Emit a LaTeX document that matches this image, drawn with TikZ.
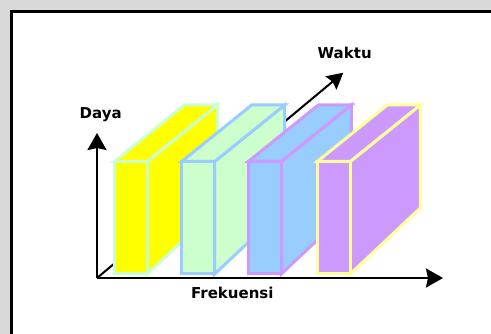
\documentclass[tikz,border=0pt]{standalone}
\usepackage{fontspec}
\setmainfont{DejaVu Sans}
\usetikzlibrary{arrows.meta}
\definecolor{bggray}{HTML}{D9D9D9}
\definecolor{cyellow}{HTML}{FFFF00}
\definecolor{cgreen}{HTML}{CCFFCC}
\definecolor{cblue}{HTML}{99CCFF}
\definecolor{cpurple}{HTML}{CC99FF}
\definecolor{clyellow}{HTML}{FFFF99}
\tikzset{
  axisline/.style={line width=2.4pt, -{Stealth[length=17pt,width=19pt,inset=2pt]}},
  timeline/.style={line width=2pt, -{Stealth[length=16pt,width=17pt,inset=2pt]}},
  lbl/.style={font=\bfseries\fontsize{15}{18}\selectfont, anchor=base, inner sep=0pt},
  slabface/.style={line width=3pt, line join=miter}
}
\newcommand{\drawslab}[4]{%
  % #1 name, #2 front-left x, #3 fill, #4 stroke
  \coordinate (#1-fl) at (#2,274);
  \coordinate (#1-ft) at (#2,161.5);
  \coordinate (#1-frt) at (#2+33,161.5);
  \coordinate (#1-frb) at (#2+33,274);
  \coordinate (#1-bl) at (#2+70,105);
  \coordinate (#1-br) at (#2+103,105);
  \coordinate (#1-bb) at (#2+103,208);
  \path[slabface, fill=#3, draw=#4] (#1-frt) -- (#1-br) -- (#1-bb) -- (#1-frb) -- cycle;
  \path[slabface, fill=#3, draw=#4] (#1-ft) -- (#1-bl) -- (#1-br) -- (#1-frt) -- cycle;
  \path[slabface, fill=#3, draw=#4] (#1-ft) -- (#1-frt) -- (#1-frb) -- (#1-fl) -- cycle;
}
\begin{document}
\begin{tikzpicture}[x=1pt,y=-1pt]
\useasboundingbox (0,0) rectangle (491,334);
\clip (0,0) rectangle (491,334);
\fill[bggray] (0,0) rectangle (491,334);
\draw[line width=3pt, fill=white] (11.5,11.7) rectangle (510,350);
% axes points
\coordinate (O) at (97,278);
\coordinate (Ytip) at (97,133);
\coordinate (Xtip) at (443,278);
\coordinate (Ztip) at (343.3,72.7);
\draw[timeline] (O) -- (Ztip);
\drawslab{s1}{114.3}{cyellow}{cgreen}
\drawslab{s2}{181.7}{cgreen}{cblue}
\drawslab{s3}{248.3}{cblue}{cpurple}
\drawslab{s4}{317.3}{cpurple}{clyellow}
\draw[axisline] (O) -- (Ytip);
\draw[axisline] (O) -- (Xtip);
\node[lbl] (daya) at (100.7,118.3) {Daya};
\node[lbl] (waktu) at (344.7,58.3) {Waktu};
\node[lbl] (frek) at (232.3,298.3) {Frekuensi};
\end{tikzpicture}
\end{document}
